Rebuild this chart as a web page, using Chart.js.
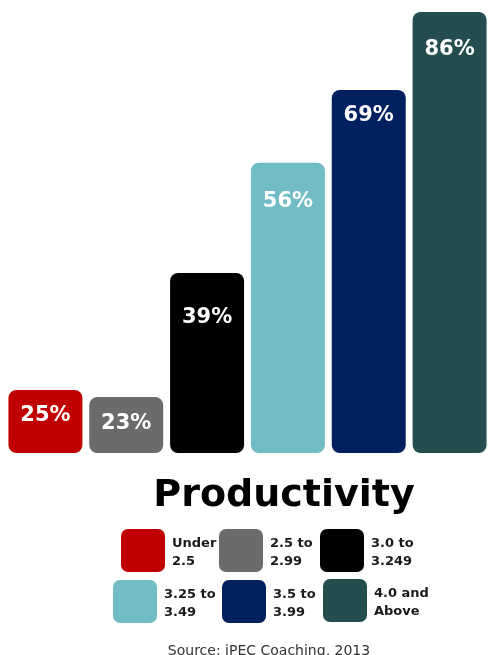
<!DOCTYPE html>
<html>
<head>
<meta charset="utf-8">
<script src="https://cdn.jsdelivr.net/npm/chart.js@4.4.1/dist/chart.umd.min.js"></script>
<style>
  html, body { margin: 0; padding: 0; background: #fff; }
  canvas { display: block; }
</style>
</head>
<body>
<canvas id="myChart" width="490" height="655"></canvas>
<script>
// GPA ranges (legend text, two lines each)
const categories = [
    ['Under', '2.5'],
    ['2.5 to', '2.99'],
    ['3.0 to', '3.249'],
    ['3.25 to', '3.49'],
    ['3.5 to', '3.99'],
    ['4.0 and', 'Above']
];
// percentages printed on the bars
const percentages = [25, 23, 39, 56, 69, 86];
// the source graphic is not drawn to scale: bar heights (same units, tallest = 86)
const barHeights = [12.3, 10.9, 35.1, 56.6, 70.8, 86];
const barColors = ['#c00000', '#6b6b6b', '#000000', '#72bcc5', '#00205f', '#244d50'];

const chartTitle = 'Productivity';
const sourceText = 'Source: iPEC Coaching, 2013';

const ctx = document.getElementById('myChart').getContext('2d');

// etiquetas dentro de las barras + titulo, leyenda y fuente debajo
const extrasPlugin = {
    id: 'extras',
    afterDatasetsDraw(chart) {
        const c = chart.ctx;
        const meta = chart.getDatasetMeta(0);
        const labelOffsets = [26, 26, 45, 39, 26, 38]; // distancia desde el tope de cada barra
        c.save();
        c.fillStyle = '#ffffff';
        c.font = "bold 21px 'DejaVu Sans', sans-serif";
        c.textAlign = 'center';
        c.textBaseline = 'middle';
        meta.data.forEach((bar, i) => {
            c.fillText(percentages[i] + '%', bar.x, bar.y + labelOffsets[i]);
        });

        // titulo
        c.fillStyle = '#000000';
        c.font = "bold 38px 'DejaVu Sans', sans-serif";
        c.textBaseline = 'alphabetic';
        c.fillText(chartTitle, 284, 506);

        // leyenda 3 x 2
        const boxes = [
            [121, 529], [219, 529], [320, 529],
            [113, 580], [222, 580], [323, 579]
        ];
        c.font = "bold 13px 'DejaVu Sans', sans-serif";
        c.textAlign = 'left';
        c.textBaseline = 'middle';
        categories.forEach((lines, i) => {
            const [bx, by] = boxes[i];
            c.fillStyle = barColors[i];
            c.beginPath();
            c.roundRect(bx, by, 44, 43, 7);
            c.fill();
            c.fillStyle = '#1a1a1a';
            c.fillText(lines[0], bx + 51, by + 15);
            c.fillText(lines[1], bx + 51, by + 33);
        });

        // fuente
        c.fillStyle = '#333333';
        c.font = "14px 'DejaVu Sans', sans-serif";
        c.textAlign = 'center';
        c.fillText(sourceText, 269, 651);
        c.restore();
    }
};

const myChart = new Chart(ctx, {
    type: 'bar',
    data: {
        labels: categories.map(l => l.join(' ')),
        datasets: [{
            data: barHeights,
            backgroundColor: barColors,
            borderWidth: 0,
            borderRadius: 8,
            borderSkipped: false,
            barPercentage: 0.915,
            categoryPercentage: 1
        }]
    },
    options: {
        responsive: false,
        animation: false,
        layout: {
            padding: { left: 5, right: 0, top: 12, bottom: 202 }
        },
        plugins: {
            legend: { display: false },
            tooltip: { enabled: false }
        },
        scales: {
            x: { display: false },
            y: { display: false, min: 0, max: 86 }
        }
    },
    plugins: [extrasPlugin]
});
</script>
</body>
</html>
